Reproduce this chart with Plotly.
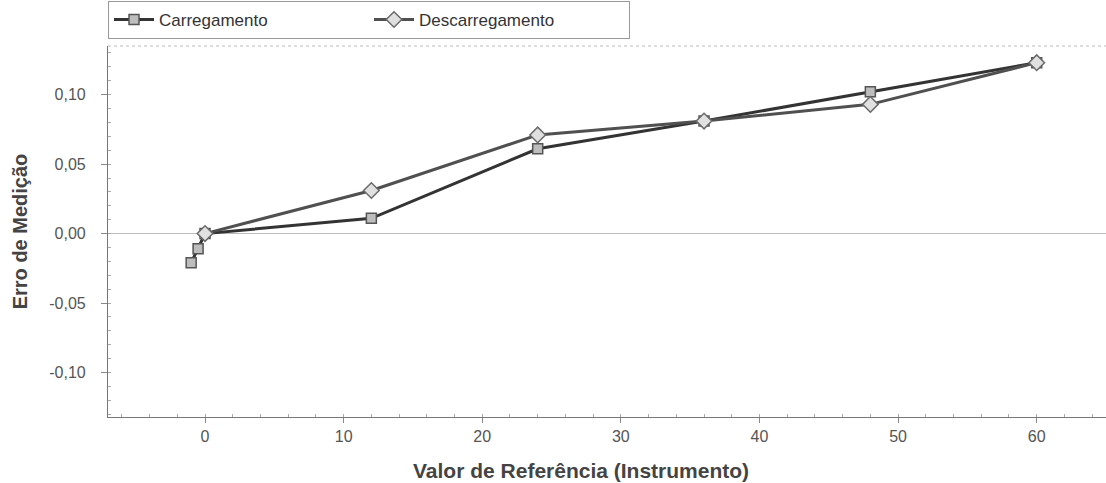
import plotly.graph_objects as go

# Data
carr_x = [-1, -0.5, 0, 12, 24, 36, 48, 60]
carr_y = [-0.021, -0.011, 0.0, 0.011, 0.061, 0.081, 0.102, 0.123]
desc_x = [0, 12, 24, 36, 48, 60]
desc_y = [0.0, 0.031, 0.071, 0.081, 0.093, 0.123]
x_ticks = [0, 10, 20, 30, 40, 50, 60]
y_ticks = [-0.10, -0.05, 0.0, 0.05, 0.10]
y_tick_labels = ["-0,10", "-0,05", "0,00", "0,05", "0,10"]

tick_fam = "Liberation Sans Narrow, Liberation Sans, Arial, sans-serif"
title_fam = "Liberation Sans, Arial, sans-serif"

fig = go.Figure()
fig.add_trace(go.Scatter(
    x=carr_x, y=carr_y, name="Carregamento", mode="lines+markers",
    line=dict(color="#333333", width=3),
    marker=dict(symbol="square", size=10, color="#bdbdbd",
                line=dict(color="#555555", width=1.5)),
))
fig.add_trace(go.Scatter(
    x=desc_x, y=desc_y, name="Descarregamento", mode="lines+markers",
    line=dict(color="#505050", width=3),
    marker=dict(symbol="diamond", size=12, color="#e0e0e0",
                line=dict(color="#6a6a6a", width=1.5)),
))

fig.update_layout(
    width=1106, height=483,
    margin=dict(l=108, r=0, t=46, b=66, autoexpand=False),
    paper_bgcolor="white", plot_bgcolor="white",
    showlegend=True,
    legend=dict(
        orientation="h", x=0.0, y=1.019, xanchor="left", yanchor="bottom",
        bordercolor="#999999", borderwidth=1, bgcolor="white",
        font=dict(family=title_fam, size=17, color="#333333"),
        entrywidth=205, entrywidthmode="pixels",
        itemwidth=40, tracegroupgap=0,
    ),
    font=dict(family=tick_fam, color="#555555"),
)

fig.update_xaxes(
    range=[-7, 65], tickvals=x_ticks, automargin=False,
    showgrid=False, zeroline=False,
    showline=True, linecolor="#777777", linewidth=1.2,
    ticks="outside", ticklen=5, tickcolor="#888888",
    tickfont=dict(family=tick_fam, size=16, color="#555555"),
    minor=dict(ticks="inside", ticklen=3, dtick=2, tickcolor="#aaaaaa"),
)
fig.update_yaxes(
    range=[-0.132, 0.135], tickvals=y_ticks, ticktext=y_tick_labels,
    automargin=False,
    showgrid=False, zeroline=True, zerolinecolor="#bbbbbb", zerolinewidth=1,
    showline=True, linecolor="#777777", linewidth=1.2,
    ticks="outside", ticklen=6, tickcolor="#888888",
    ticklabelstandoff=12,
    tickfont=dict(family=tick_fam, size=16, color="#555555"),
    minor=dict(ticks="inside", ticklen=3, dtick=0.01, tickcolor="#aaaaaa"),
    title=dict(text="<b>Erro de Medição</b>",
               font=dict(family=title_fam, size=20, color="#444444"),
               standoff=16),
)

# x-axis title (placed as annotation so it can sit left of the plot centre, as in the reference)
fig.add_annotation(
    text="<b>Valor de Referência (Instrumento)</b>",
    xref="paper", yref="paper", x=0.474, y=0, yshift=-53,
    xanchor="center", yanchor="middle", showarrow=False,
    font=dict(family=title_fam, size=21, color="#444444"),
)

# dotted border along the top of the plot area
fig.add_shape(type="line", xref="paper", yref="paper", x0=0, x1=1, y0=1, y1=1,
              line=dict(color="#bbbbbb", width=1, dash="dot"))

fig.write_html(
    "out.html",
    config={"displayModeBar": False},
    post_script="document.body.style.margin='0';document.body.style.overflow='hidden';",
)
